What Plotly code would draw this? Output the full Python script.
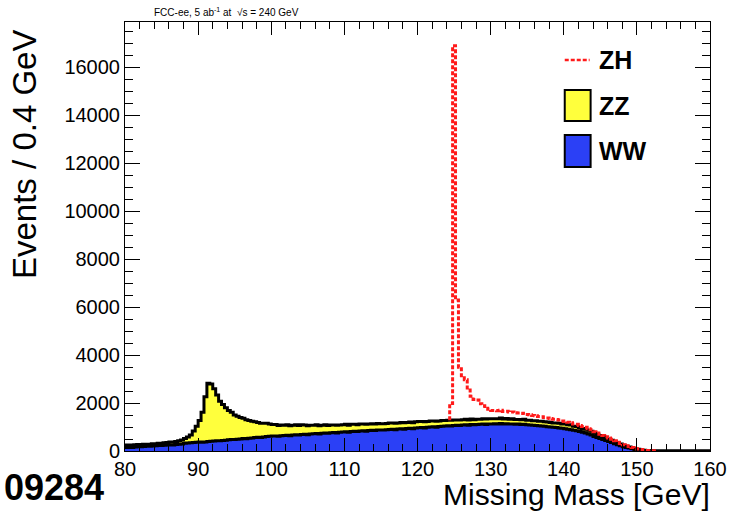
import plotly.graph_objects as go

# ---------------- data ----------------
x_min, bin_width, n_bins = 80.0, 0.4, 200
edges = [round(x_min + bin_width * i, 2) for i in range(n_bins + 1)]

ww = [
    150, 160, 150, 170, 180, 175, 190, 200, 195, 210,
    220, 230, 225, 240, 250, 260, 255, 270, 280, 290,
    320, 330, 340, 350, 360, 370, 365, 380, 395, 410,
    420, 430, 425, 440, 450, 470, 480, 475, 490, 500,
    520, 510, 530, 540, 560, 570, 560, 580, 600, 610,
    620, 630, 610, 640, 650, 660, 640, 670, 680, 670,
    690, 700, 680, 710, 720, 730, 710, 740, 750, 740,
    760, 770, 750, 780, 790, 800, 780, 810, 820, 810,
    830, 840, 820, 850, 860, 850, 870, 880, 870, 890,
    900, 910, 890, 920, 930, 910, 940, 950, 930, 960,
    970, 980, 960, 990, 1000, 1010, 990, 1020, 1030, 1040,
    1050, 1040, 1060, 1070, 1060, 1080, 1090, 1070, 1100, 1090,
    1100, 1110, 1120, 1100, 1130, 1120, 1140, 1130, 1150, 1130,
    1140, 1120, 1130, 1110, 1120, 1100, 1110, 1090, 1080, 1070,
    1060, 1050, 1040, 1030, 1010, 1000, 990, 980, 960, 950,
    930, 910, 890, 860, 840, 810, 780, 750, 710, 670,
    600, 560, 520, 480, 440, 400, 350, 300, 260, 220,
    180, 150, 120, 90, 65, 45, 30, 20, 12, 8,
    5, 3, 2, 1, 0, 0, 0, 0, 0, 0,
    0, 0, 0, 0, 0, 0, 0, 0, 0, 0,
]

zz = [
    100, 90, 100, 95, 90, 85, 90, 80, 85, 90,
    85, 90, 95, 100, 105, 110, 120, 130, 150, 170,
    200, 250, 330, 480, 670, 900, 1250, 1880, 2430, 2380,
    2170, 1900, 1650, 1500, 1350, 1220, 1130, 1020, 960, 900,
    840, 790, 740, 700, 660, 620, 600, 580, 560, 520,
    480, 470, 450, 440, 420, 430, 410, 400, 410, 390,
    400, 380, 370, 360, 350, 360, 340, 330, 340, 320,
    320, 310, 320, 300, 300, 310, 290, 300, 290, 280,
    290, 280, 290, 270, 280, 270, 280, 260, 270, 260,
    270, 260, 270, 250, 260, 270, 250, 260, 250, 260,
    260, 250, 260, 240, 250, 240, 250, 230, 240, 230,
    230, 240, 230, 220, 230, 220, 230, 220, 230, 210,
    220, 210, 220, 230, 210, 220, 200, 210, 220, 200,
    210, 200, 210, 200, 190, 200, 210, 190, 200, 190,
    200, 190, 200, 190, 200, 190, 180, 190, 200, 180,
    190, 180, 190, 170, 180, 170, 160, 160, 150, 150,
    140, 140, 130, 120, 110, 100, 100, 90, 80, 70,
    60, 50, 45, 40, 30, 25, 20, 15, 10, 5,
    3, 2, 1, 0, 0, 0, 0, 0, 0, 0,
    0, 0, 0, 0, 0, 0, 0, 0, 0, 0,
]

zh = [0] * 111 + [
    700, 15600, 5000, 2200, 1750, 1650, 1250, 950, 850,
    800, 650, 550, 450, 400, 350, 350, 340, 330, 320,
    310, 300, 290, 280, 270, 260, 250, 240, 230, 220,
    210, 200, 190, 180, 170, 160, 150, 140, 130, 120,
    110, 105, 100, 95, 90, 85, 80, 75, 70, 65,
    60, 55, 50, 45, 42, 38, 35, 32, 28, 25,
    22, 20, 18, 15, 12, 10, 8, 6, 4, 2,
    1,
]
zh = zh + [0] * (n_bins - len(zh))

x_ticks = [80, 90, 100, 110, 120, 130, 140, 150, 160]
y_ticks = list(range(0, 17000, 2000))

legend_labels = ["ZH", "ZZ", "WW"]
# --------------------------------------

FONT = "Liberation Sans, Arial, Helvetica, sans-serif"
BLUE = "#2b40f6"
YELLOW = "#ffff3c"
RED = "#ff1a1a"

stack_ww = ww
stack_zz = [a + b for a, b in zip(ww, zz)]
stack_zh = [a + b for a, b in zip(stack_zz, zh)]


def steps(vals):
    return edges[:], vals + [vals[-1]]


fig = go.Figure()

xs, ys = steps(stack_ww)
fig.add_trace(go.Scatter(x=xs, y=ys, mode="lines", line=dict(color="black", width=3, shape="hv"),
                         fill="tozeroy", fillcolor=BLUE, name="WW", showlegend=False, hoverinfo="skip"))
xs, ys = steps(stack_zz)
fig.add_trace(go.Scatter(x=xs, y=ys, mode="lines", line=dict(color="black", width=3, shape="hv"),
                         fill="tonexty", fillcolor=YELLOW, name="ZZ", showlegend=False, hoverinfo="skip"))

# signal drawn on top of background, only where it exists
nz = [i for i, v in enumerate(zh) if v > 0]
i0, i1 = nz[0], nz[-1]
rx = [edges[i0]] + [edges[i] for i in range(i0, i1 + 1)] + [edges[i1 + 1], edges[i1 + 1]]
ry = [stack_zz[i0 - 1]] + [stack_zh[i] for i in range(i0, i1 + 1)] + [stack_zh[i1], stack_zz[i1 + 1]]
fig.add_trace(go.Scatter(x=rx, y=ry, mode="lines",
                         line=dict(color=RED, width=3, shape="hv", dash="4px,2px"),
                         name="ZH", showlegend=False, hoverinfo="skip"))

L, R, T, B = 125, 26, 22, 61
W, H = 739, 512
pw, ph = W - L - R, H - T - B


def px(xp):
    return (xp - L) / pw


def py(yp):
    return (T + ph - yp) / ph


axis_common = dict(showgrid=False, zeroline=False, showline=True, linecolor="black", linewidth=1,
                   mirror="allticks", ticks="inside", tickcolor="black", tickwidth=1,
                   tickfont=dict(family=FONT, size=20, color="black"))

fig.update_layout(
    width=W, height=H, margin=dict(l=L, r=R, t=T, b=B),
    paper_bgcolor="white", plot_bgcolor="white",
    xaxis=dict(range=[80, 160], tickvals=x_ticks, ticklen=13,
               minor=dict(dtick=2, ticklen=7, ticks="inside", tickcolor="black", showgrid=False),
               **axis_common),
    yaxis=dict(range=[0, 17875], tickvals=y_ticks, tickformat="d", ticklen=15,
               minor=dict(dtick=500, ticklen=8, ticks="inside", tickcolor="black", showgrid=False),
               **axis_common),
    showlegend=False,
)

ann = []
ann.append(dict(text="FCC-ee, 5 ab<sup>-1</sup> at  √s = 240 GeV", xref="paper", yref="paper",
                x=px(152), y=py(12), xanchor="left", yanchor="middle", showarrow=False,
                font=dict(family=FONT, size=10, color="black")))
ann.append(dict(text="Events / 0.4 GeV", xref="paper", yref="paper", x=px(24), y=py(28),
                xanchor="center", yanchor="top", textangle=-90, showarrow=False,
                font=dict(family=FONT, size=33, color="black")))
ann.append(dict(text="Missing Mass [GeV]", xref="paper", yref="paper", x=px(715), y=py(494),
                xanchor="right", yanchor="middle", showarrow=False,
                font=dict(family=FONT, size=30, color="black")))
ann.append(dict(text="<b>09284</b>", xref="paper", yref="paper", x=px(1), y=py(510),
                xanchor="left", yanchor="bottom", showarrow=False,
                font=dict(family=FONT, size=36, color="black")))

# legend
leg_y = [60, 106, 151]
for lab, yy in zip(legend_labels, leg_y):
    ann.append(dict(text="<b>" + lab + "</b>", xref="paper", yref="paper", x=px(599), y=py(yy),
                    xanchor="left", yanchor="middle", showarrow=False,
                    font=dict(family=FONT, size=25, color="black")))
shapes = [
    dict(type="line", xref="paper", yref="paper", x0=px(567), x1=px(592), y0=py(60), y1=py(60),
         line=dict(color=RED, width=2.5, dash="4px,2px")),
    dict(type="rect", xref="paper", yref="paper", x0=px(567), x1=px(593), y0=py(121), y1=py(90),
         fillcolor=YELLOW, line=dict(color="black", width=2)),
    dict(type="rect", xref="paper", yref="paper", x0=px(567), x1=px(593), y0=py(167), y1=py(135),
         fillcolor=BLUE, line=dict(color="black", width=2)),
]
fig.update_layout(annotations=ann, shapes=shapes)

fig.write_html("out.html")
